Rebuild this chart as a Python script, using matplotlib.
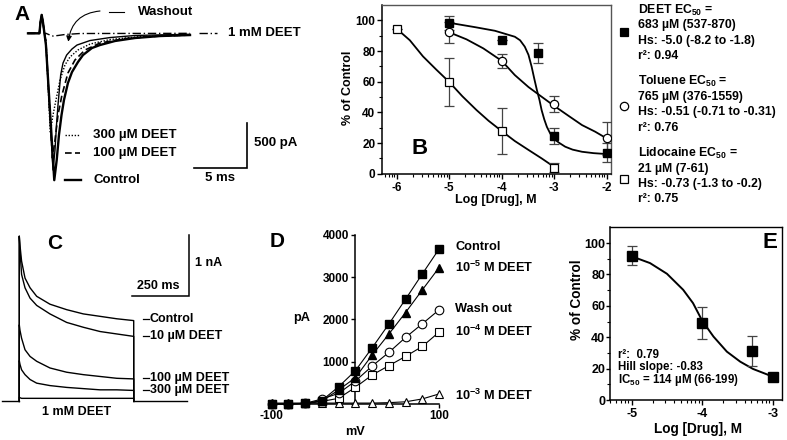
import numpy as np
import matplotlib
matplotlib.use("Agg")
from matplotlib import pyplot as plt
from matplotlib.lines import Line2D

plt.rcParams['font.family'] = ['Liberation Sans', 'DejaVu Sans']
plt.rcParams['font.weight'] = 'bold'
plt.rcParams['axes.unicode_minus'] = False
plt.rcParams['mathtext.fontset'] = 'custom'
plt.rcParams['mathtext.rm'] = 'Liberation Sans:bold'
plt.rcParams['mathtext.it'] = 'Liberation Sans:bold'
plt.rcParams['mathtext.bf'] = 'Liberation Sans:bold'

# ---------------- data ----------------
# A: current traces (ms, pA); stimulus artifact shared by all traces
a_art_t = [-1.28, -0.21, -0.11, 0.0, 0.12, 0.26]
a_art_i = [0, 0, 125, 205, 125, 0]
a_ctrl_t = [0.40, 1.18, 1.41, 1.62, 1.86, 2.09, 2.46, 2.84, 3.40, 3.87, 4.71, 5.46, 6.87, 8.74, 11.09, 13.9]
a_ctrl_i = [-130, -1630, -1406, -1129, -907, -740, -552, -430, -319, -241, -163, -130, -85, -52, -30, -19]
a_100_t = [0.40, 1.01, 1.25, 1.53, 1.90, 2.46, 3.12, 4.06, 5.46, 7.81, 11.09, 13.9]
a_100_i = [-97, -1384, -1185, -907, -685, -441, -296, -185, -108, -58, -30, -19]
a_300_t = [0.40, 0.81, 1.06, 1.34, 1.72, 2.18, 2.65, 3.40, 4.53, 6.40, 9.21, 13.9]
a_300_i = [-74, -1107, -907, -740, -518, -352, -263, -185, -119, -69, -36, -19]
a_wash_t = [0.40, 1.06, 1.25, 1.39, 1.53, 1.78, 2.00, 2.34, 2.84, 3.31, 4.53, 6.40, 8.74, 11.09, 13.9]
a_wash_i = [-119, -1517, -1295, -1018, -796, -463, -330, -241, -174, -130, -80, -47, -24, -17, -11]
a_1mm_t = [0.40, 0.78, 1.06, 1.53, 2.18, 3.59, 13.9]
a_1mm_i = [0, -19, -30, -24, -13, -2, 0]

# B: concentration-response (log M, % of control)
b_deet_x = [-5, -4, -3.3, -3, -2]
b_deet_y = [98.4, 87.2, 79.0, 24.6, 13.7]
b_deet_e = [4.6, 0, 6.5, 5.3, 6.3]
b_tol_x = [-5, -4, -3, -2]
b_tol_y = [92.2, 73.5, 45.4, 23.0]
b_tol_e = [7.0, 4.5, 5.2, 11.0]
b_lido_x = [-6, -5, -4, -3]
b_lido_y = [94.5, 59.8, 27.8, 3.9]
b_lido_e = [0, 15.8, 14.9, 2.9]
b_deet_fit_x = [-5.0, -4.5, -4.13, -3.75, -3.65, -3.56, -3.49, -3.43, -3.38, -3.33, -3.28, -3.24, -3.19, -3.14,
                -3.08, -3.02, -2.9, -2.79, -2.65, -2.47, -2.25, -2.0]
b_deet_fit_y = [98.4, 95.5, 93.2, 89.3, 87.0, 82.8, 77.5, 69.8, 62.0, 54.6, 48.0, 41.5, 35.5, 30.6,
                26.5, 23.1, 20.0, 17.6, 15.7, 14.3, 13.4, 12.8]
b_tol_fit_x = [-5.0, -4.67, -4.35, -4.0, -3.75, -3.49, -3.24, -3.0, -2.73, -2.47, -2.22, -2.0]
b_tol_fit_y = [92.2, 87.6, 81.7, 73.6, 64.3, 56.5, 50.2, 44.2, 37.8, 31.7, 27.4, 23.0]
b_lido_fit_x = [-6.0, -5.75, -5.5, -5.25, -5.0, -4.75, -4.48, -4.25, -4.0, -3.75, -3.49, -3.24, -3.0]
b_lido_fit_y = [94.5, 87.0, 76.5, 68.0, 59.8, 50.5, 41.5, 34.5, 27.8, 21.3, 15.5, 10.0, 4.4]

# C: current traces (ms, nA)
c_t = [0, 3, 10, 25, 47, 76, 134, 207, 280, 353, 426, 500]
c_ctrl = [2.72, 2.57, 2.31, 2.03, 1.87, 1.73, 1.60, 1.51, 1.44, 1.40, 1.36, 1.33]
c_10 = [2.72, 2.49, 2.09, 1.87, 1.70, 1.58, 1.44, 1.30, 1.22, 1.15, 1.11, 1.07]
c_100 = [1.26, 1.17, 1.04, 0.85, 0.74, 0.66, 0.55, 0.48, 0.44, 0.41, 0.38, 0.37]
c_300 = [0.67, 0.61, 0.52, 0.44, 0.36, 0.30, 0.26, 0.23, 0.21, 0.19, 0.19, 0.18]
c_1mm = [0.07, 0.06, 0.05, 0.05, 0.05, 0.05, 0.05, 0.05, 0.05, 0.05, 0.05, 0.05]
c_labels = ["Control", "10 µM DEET", "100 µM DEET", "300 µM DEET"]

# D: I-V (mV, pA)
d_mv = [-100, -80, -60, -40, -20, 0, 20, 40, 60, 80, 100]
d_ctrl = [0, 0, 10, 80, 406, 785, 1327, 1890, 2480, 3078, 3668]
d_1e5 = [0, 0, 10, 70, 330, 620, 1155, 1653, 2164, 2700, 3227]
d_wash = [0, 0, 15, 115, 250, 540, 895, 1219, 1574, 1897, 2227]
d_1e4 = [0, 0, 10, 60, 132, 392, 684, 905, 1125, 1361, 1700]
d_1e3 = [20, 20, 20, 20, 20, 20, 20, 30, 50, 118, 236]
d_names = ["Control", "10$^{-5}$ M DEET", "Wash out", "10$^{-4}$ M DEET", "10$^{-3}$ M DEET"]

# E: concentration-response (log M, % of control)
e_x = [-5, -4, -3.3, -3]
e_y = [92.0, 49.0, 31.3, 14.5]
e_err = [6.1, 10.0, 9.5, 2.0]
e_fit_x = [-5.0, -4.74, -4.5, -4.27, -4.13, -4.0, -3.84, -3.65, -3.46, -3.28, -3.0]
e_fit_y = [91.5, 87.2, 80.4, 70.2, 61.7, 50.5, 40.4, 30.8, 24.4, 19.8, 14.9]

# ---------------- figure helpers ----------------
W, H = 787.0, 440.0
fig = plt.figure(figsize=(W / 100, H / 100), dpi=100)


def px_box(x0, y0, x1, y1):
    return [x0 / W, 1 - y1 / H, (x1 - x0) / W, (y1 - y0) / H]


def px_text(x, y, s, **kw):
    kw.setdefault('va', 'center')
    kw.setdefault('fontweight', 'bold')
    fig.text(x / W, 1 - y / H, s, **kw)


def px_line(xs, ys, **kw):
    fig.add_artist(Line2D([x / W for x in xs], [1 - y / H for y in ys],
                          transform=fig.transFigure, **kw))


def log_minor(lo, hi):
    out = []
    for n in range(int(np.floor(lo)), int(np.ceil(hi)) + 1):
        for k in range(2, 10):
            v = n + np.log10(k)
            if lo < v < hi:
                out.append(v)
    return out


def dose_axes(ax, xlim, xticks, frame_color, labelsize):
    ax.set_xlim(*xlim)
    ax.set_ylim(0, 110)
    ax.set_xticks(xticks)
    ax.set_xticklabels([str(v) for v in xticks])
    ax.set_xticks(log_minor(*xlim), minor=True)
    ax.set_yticks([0, 20, 40, 60, 80, 100])
    ax.set_yticks([10, 30, 50, 70, 90], minor=True)
    ax.tick_params(which='major', direction='out', length=3.5, width=1.0, labelsize=labelsize)
    ax.tick_params(which='minor', direction='out', length=2, width=0.8)
    ax.tick_params(axis='x', which='major', pad=2.5)
    ax.tick_params(axis='y', which='major', pad=1.0)
    for lab in ax.get_xticklabels() + ax.get_yticklabels():
        lab.set_fontweight('bold')
    for side in ['left', 'bottom']:
        ax.spines[side].set_linewidth(1.1)
    for side in ['top', 'right']:
        ax.spines[side].set_linewidth(1.0)
        ax.spines[side].set_color(frame_color)


# ---------------- A ----------------
axA = fig.add_axes(px_box(20, 0, 320, 200))
axA.set_xlim(-2.03, 26.08)
axA.set_ylim(-1850, 370)
axA.axis('off')
axA.plot(a_art_t + a_1mm_t, a_art_i + a_1mm_i, color='black', lw=1.0, ls=(0, (6, 2, 1, 2)))
axA.plot(a_art_t + a_wash_t, a_art_i + a_wash_i, color='black', lw=1.0)
axA.plot(a_art_t + a_100_t, a_art_i + a_100_i, color='black', lw=1.2, ls=(0, (4, 2)))
axA.plot(a_art_t + a_300_t, a_art_i + a_300_i, color='black', lw=1.0, ls=(0, (1, 1.2)))
axA.plot(a_art_t + a_ctrl_t, a_art_i + a_ctrl_i, color='black', lw=1.7)
# scale bar 5 ms / 500 pA
axA.plot([14.24, 19.24, 19.24], [-1492, -1492, -992], color='black', lw=1.2, solid_joinstyle='miter')

px_text(14, 14, "A", fontsize=15)
px_line([65, 80], [135, 135], color='black', lw=1.0, ls=(0, (1, 1.2)))
px_line([65, 80], [153, 153], color='black', lw=1.2, ls=(0, (4, 2)))
px_line([65, 81], [180, 180], color='black', lw=1.7)
px_text(93, 135, "300 µM DEET", fontsize=9.5)
px_text(93, 153, "100 µM DEET", fontsize=9.5)
px_text(93, 180, "Control", fontsize=9.5)
px_line([109, 124], [12, 12], color='black', lw=0.8)
px_text(137.5, 12, "Washout", fontsize=9.5)
px_line([199, 217], [33, 33], color='black', lw=1.0, ls=(0, (6, 2, 1, 2)))
px_text(228, 33, "1 mM DEET", fontsize=9.5)
px_text(254, 143, "500 pA", fontsize=9.5)
px_text(220, 178, "5 ms", fontsize=9.5, ha='center')
axA.annotate('', xy=(68.3, H - 41.7), xycoords='figure pixels',
             xytext=(100, H - 11), textcoords='figure pixels', annotation_clip=False,
             arrowprops=dict(arrowstyle='-|>', connectionstyle='arc3,rad=0.4', lw=0.8,
                             color='black', mutation_scale=8, shrinkA=0, shrinkB=0))

# ---------------- B ----------------
axB = fig.add_axes(px_box(381.7, 5, 611, 173.7))
dose_axes(axB, (-6.286, -1.918), [-6, -5, -4, -3, -2], '#555555', 8.5)
axB.plot(b_deet_fit_x, b_deet_fit_y, color='black', lw=1.3, zorder=2)
axB.plot(b_tol_fit_x, b_tol_fit_y, color='black', lw=1.3, zorder=2)
axB.plot(b_lido_fit_x, b_lido_fit_y, color='black', lw=1.3, zorder=2)
ebkw = dict(ls='none', ecolor='#444444', elinewidth=0.9, capsize=3.5, capthick=0.9, zorder=3)
axB.errorbar(b_deet_x, b_deet_y, yerr=b_deet_e, marker='s', ms=5.5, mfc='black', mec='black', **ebkw)
axB.errorbar(b_tol_x, b_tol_y, yerr=b_tol_e, marker='o', ms=6, mfc='white', mec='black', mew=0.9, **ebkw)
axB.errorbar(b_lido_x, b_lido_y, yerr=b_lido_e, marker='s', ms=6, mfc='white', mec='black', mew=0.9, **ebkw)
px_text(411.7, 149, "B", fontsize=16)
px_text(348.3, 88, "% of Control", fontsize=9, rotation=90, ha='center')
px_text(496, 199.5, "Log [Drug], M", fontsize=9, ha='center')

b_legend = [
    ("s", "black", 32.3, ["DEET EC$_{50}$ =", "683 µM (537-870)", "Hs: -5.0 (-8.2 to -1.8)", "r²: 0.94"], 10),
    ("o", "white", 105.7, ["Toluene EC$_{50}$ =", "765 µM (376-1559)", "Hs: -0.51 (-0.71 to -0.31)", "r²: 0.76"], 81.7),
    ("s", "white", 179, ["Lidocaine EC$_{50}$ =", "21 µM (7-61)", "Hs: -0.73 (-1.3 to -0.2)", "r²: 0.75"], 153.3),
]
for mk, fc, my, lines, ty in b_legend:
    fig.add_artist(Line2D([624 / W], [1 - my / H], transform=fig.transFigure, marker=mk, ms=6,
                          mfc=fc, mec='black', mew=0.9, ls='none'))
    for k, s in enumerate(lines):
        px_text(637.7, ty + k * 15.3, s, fontsize=8.8)

# ---------------- C ----------------
axC = fig.add_axes(px_box(0, 225, 290, 425))
axC.set_xlim(-84.3, 1183)
axC.set_ylim(-0.389, 2.904)
axC.axis('off')
axC.plot([-75, 0], [0, 0], color='black', lw=1.0)
axC.plot([500, 733], [0, 0], color='black', lw=1.0)
for vals in [c_1mm, c_300, c_100, c_10, c_ctrl]:
    axC.plot([0] + c_t + [500], [0] + vals + [0], color='black', lw=1.0)
axC.plot([491.6, 741.6, 741.6], [1.74, 1.74, 2.74], color='black', lw=1.1, solid_joinstyle='miter')
px_text(46.7, 243, "C", fontsize=15)
px_text(195, 263, "1 nA", fontsize=9)
px_text(158, 286, "250 ms", fontsize=9, ha='center')
for s, yy in zip(c_labels, [319.3, 336, 377.5, 390]):
    px_line([143.3, 149], [yy, yy], color='black', lw=0.9)
    px_text(150, yy, s, fontsize=9)
px_text(76.7, 411.7, "1 mM DEET", fontsize=9, ha='center')

# ---------------- D ----------------
axD = fig.add_axes(px_box(265, 228, 445, 410))
axD.set_xlim(-107.9, 107.1)
axD.set_ylim(-144, 4165)
axD.patch.set_alpha(0)
for side in ['top', 'right']:
    axD.spines[side].set_visible(False)
axD.spines['left'].set_position(('data', 0))
axD.spines['bottom'].set_position(('data', 0))
axD.spines['left'].set_bounds(0, 4000)
axD.spines['bottom'].set_bounds(-100, 100)
for side in ['left', 'bottom']:
    axD.spines[side].set_linewidth(1.1)
    axD.spines[side].set_zorder(1)
axD.set_yticks([0, 1000, 2000, 3000, 4000])
axD.set_yticklabels(['', '1000', '2000', '3000', '4000'], fontweight='bold')
axD.set_xticks([-100, 100])
axD.set_xticklabels(['-100', '100'], fontweight='bold')
axD.tick_params(direction='out', length=3, width=1.0, labelsize=8.5, pad=1.5)
lkw = dict(color='black', lw=0.8, zorder=3)
axD.plot(d_mv, d_1e3, marker='^', ms=6, mfc='white', mec='black', mew=0.8, **lkw)
axD.plot(d_mv, d_1e4, marker='s', ms=5.8, mfc='white', mec='black', mew=0.8, **lkw)
axD.plot(d_mv, d_wash, marker='o', ms=6.2, mfc='white', mec='black', mew=0.8, **lkw)
axD.plot(d_mv, d_1e5, marker='^', ms=6.2, mfc='black', mec='black', **lkw)
axD.plot(d_mv, d_ctrl, marker='s', ms=5.6, mfc='black', mec='black', **lkw)
for ln in axD.lines:
    ln.set_clip_on(False)
px_text(277.5, 241.7, "D", fontsize=15, ha='center')
px_text(302, 318, "pA", fontsize=9.2, ha='center')
px_text(355, 431.7, "mV", fontsize=9.2, ha='center')
for s, yy in zip(d_names, [246.7, 267.7, 309.3, 331.7, 395]):
    px_text(455, yy, s, fontsize=9.2)

# ---------------- E ----------------
axE = fig.add_axes(px_box(610, 227.3, 781.7, 400))
dose_axes(axE, (-5.308, -2.872), [-5, -4, -3], 'black', 9)
axE.tick_params(axis='y', which='major', pad=0.5, length=3)
axE.plot(e_fit_x, e_fit_y, color='black', lw=1.4, zorder=2)
axE.errorbar(e_x, e_y, yerr=e_err, ls='none', marker='s', ms=6.5, mfc='black', mec='black',
             ecolor='#444444', elinewidth=0.9, capsize=3.5, capthick=0.9, zorder=3)
px_text(770, 242.5, "E", fontsize=16, ha='center')
px_text(576.7, 300, "% of Control", fontsize=9.8, rotation=90, ha='center')
px_text(697.5, 429.3, "Log [Drug], M", fontsize=9.8, ha='center')
px_text(618.3, 354.5, "r²:  0.79", fontsize=8.3)
px_text(618.3, 367, "Hill slope: -0.83", fontsize=8.3)
px_text(618.3, 379.5, "IC$_{50}$ = 114 µM (66-199)", fontsize=8.3)

fig.savefig("out.png", dpi=100)
